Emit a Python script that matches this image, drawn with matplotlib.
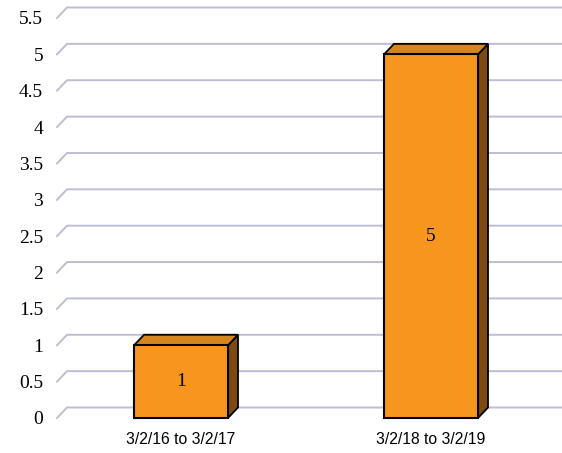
import numpy as np
import matplotlib.pyplot as plt
from matplotlib.patches import Polygon, Rectangle

categories = ['3/2/16 to 3/2/17', '3/2/18 to 3/2/19']
values = [1, 5]
yticks = [0, 0.5, 1, 1.5, 2, 2.5, 3, 3.5, 4, 4.5, 5, 5.5]
ytick_labels = ['0', '0.5', '1', '1.5', '2', '2.5', '3', '3.5', '4', '4.5', '5', '5.5']

W, H = 562, 453
fig = plt.figure(figsize=(W / 100, H / 100), dpi=100)

# plot area in pixels (front plane)
left_px, right_px = 57, 562
y0_px, ytop_px = 418, 18
ax = fig.add_axes([left_px / W, (H - y0_px) / H,
                   (right_px - left_px) / W, (y0_px - ytop_px) / H])

px_per_cat = 250.0
cx0 = 181.0
xmin = (left_px - cx0) / px_per_cat
xmax = (right_px - cx0) / px_per_cat
ax.set_xlim(xmin, xmax)
ax.set_ylim(0, 5.5)

px_per_val = (y0_px - ytop_px) / 5.5
ddx = 10 / px_per_cat
ddy = 10.5 / px_per_val
bar_w = 94 / px_per_cat

grid_c = '#BDBDD3'
for v in yticks:
    ax.plot([xmin, xmin + ddx, xmax], [v, v + ddy, v + ddy],
            color=grid_c, lw=1.4, clip_on=False, zorder=1,
            solid_joinstyle='miter')

front_c = '#F7961F'
top_c = '#D6861C'
side_c = '#7C4A12'
for i, v in enumerate(values):
    x0 = i - bar_w / 2
    x1 = i + bar_w / 2
    side = Polygon([[x1, 0], [x1 + ddx, ddy], [x1 + ddx, v + ddy], [x1, v]],
                   closed=True, facecolor=side_c, edgecolor='black',
                   lw=1.3, zorder=3, clip_on=False)
    top = Polygon([[x0, v], [x0 + ddx, v + ddy], [x1 + ddx, v + ddy], [x1, v]],
                  closed=True, facecolor=top_c, edgecolor='black',
                  lw=1.3, zorder=3, clip_on=False)
    front = Rectangle((x0, 0), bar_w, v, facecolor=front_c,
                      edgecolor='black', lw=1.5, zorder=4, clip_on=False)
    ax.add_patch(side)
    ax.add_patch(top)
    ax.add_patch(front)
    ax.text(i, v / 2, str(v), ha='center', va='center',
            fontsize=14, family='Liberation Serif', zorder=5)

ax.set_yticks(yticks)
ax.set_yticklabels(ytick_labels, family='Liberation Serif', fontsize=14)
ax.set_xticks(range(len(categories)))
ax.set_xticklabels(categories, family='Liberation Sans', fontsize=11.3)
ax.tick_params(axis='y', length=0, pad=10)
ax.tick_params(axis='x', length=0, pad=10)
for s in ax.spines.values():
    s.set_visible(False)

fig.savefig('out.png', dpi=100)
